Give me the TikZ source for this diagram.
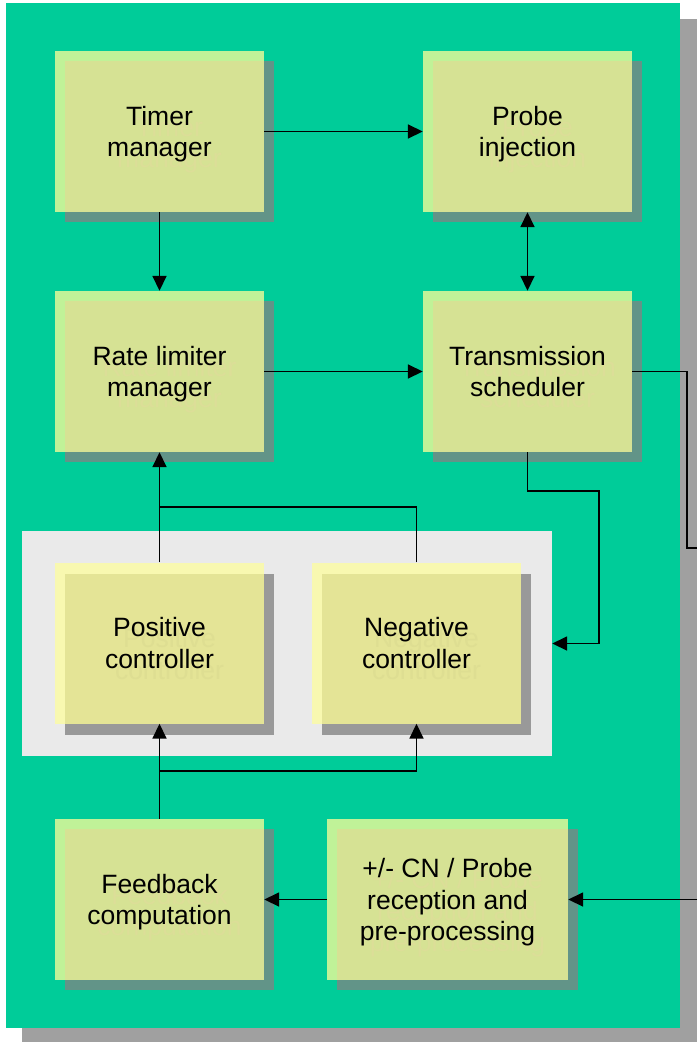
\documentclass[tikz,border=0pt]{standalone}
\usepackage{fontspec}
\setmainfont{Liberation Sans}
\usetikzlibrary{arrows.meta,shadows}
\definecolor{bggreen}{HTML}{00CC99}
\definecolor{outergray}{HTML}{A0A0A0}
\definecolor{panelgray}{HTML}{EAEAEA}
\definecolor{lgreen}{HTML}{C0F298}
\definecolor{khakiG}{HTML}{D6E294}
\definecolor{ghostG}{HTML}{DCDE98}
\definecolor{shadowG}{HTML}{629488}
\definecolor{lyellow}{HTML}{F8F8B0}
\definecolor{khakiY}{HTML}{E4E496}
\definecolor{ghostY}{HTML}{DEDE92}
\definecolor{shadowY}{HTML}{999999}
\newcommand\boxfont{\fontsize{26.5}{31.5}\selectfont}
\newcommand\tp{\rule{0pt}{25pt}}
\newcommand\bt{\rule[-6pt]{0pt}{6pt}}
\tikzset{
  base/.style={rectangle, inner sep=0pt, minimum width=209pt, minimum height=161pt,
    align=center, font=\boxfont, text=black},
  gbox/.style={base, fill=lgreen,
    drop shadow={shadow xshift=10pt, shadow yshift=-10pt, fill=shadowG, opacity=1},
    path picture={
      \fill[khakiG] ([shift={(10pt,-10pt)}]path picture bounding box.north west)
        rectangle (path picture bounding box.south east);
      \node[font=\boxfont, align=center, text=ghostG, inner sep=0pt]
        at ([shift={(10pt,-11pt)}]path picture bounding box.center) {\tp #1\bt};}},
  ybox/.style={base, fill=lyellow,
    drop shadow={shadow xshift=10pt, shadow yshift=-11pt, fill=shadowY, opacity=1},
    path picture={
      \fill[khakiY] ([shift={(10pt,-11pt)}]path picture bounding box.north west)
        rectangle (path picture bounding box.south east);
      \node[font=\boxfont, align=center, text=ghostY, inner sep=0pt]
        at ([shift={(10pt,-11pt)}]path picture bounding box.center) {\tp #1\bt};}},
  conn/.style={line width=1.7pt, draw=black},
  arr/.style={conn, -{Triangle[length=15pt,width=14pt]}},
  darr/.style={conn, {Triangle[length=15pt,width=14pt]}-{Triangle[length=15pt,width=14pt]}},
}
\begin{document}
\begin{tikzpicture}[x=1pt,y=-1pt]
\useasboundingbox (0,0) rectangle (697,1042);
\fill[outergray] (22,19) rectangle (697,1042);
\fill[bggreen] (6,3) rectangle (680,1028);
\node[rectangle, fill=panelgray, inner sep=0pt, minimum width=530pt, minimum height=225pt] (panel) at (287,643.5) {};

\node[gbox={Timer\\manager}] (timer) at (159.5,131.5) {\tp Timer\\manager\bt};
\node[gbox={Probe\\injection}] (probe) at (527.5,131.5) {\tp Probe\\injection\bt};
\node[gbox={Rate limiter\\manager}] (rate) at (159.5,371.5) {\tp Rate limiter\\manager\bt};
\node[gbox={Transmission\\scheduler}] (trans) at (527.5,371.5) {\tp Transmission\\scheduler\bt};
\node[ybox={Positive\\controller}] (pos) at (159.5,643) {\tp Positive\\controller\bt};
\node[ybox={Negative\\controller}] (neg) at (416.5,643) {\tp Negative\\controller\bt};
\node[gbox={Feedback\\computation}] (feed) at (159.5,899.5) {\tp Feedback\\computation\bt};
\node[gbox={+/- CN / Probe\\reception and\\pre-processing}, minimum width=241pt] (cn) at (447.5,899.5) {\tp +/- CN / Probe\\reception and\\pre-processing\bt};

\coordinate (j1) at (599,491);
\coordinate (j2) at (159.5,507);
\coordinate (j3) at (159.5,771);
\coordinate (k1) at (687,548);
\coordinate (outA) at (697,548);
\coordinate (inB) at (697,899.5);

\draw[arr] (timer) -- (probe);
\draw[arr] (timer) -- (rate);
\draw[darr] (probe) -- (trans);
\draw[arr] (rate) -- (trans);
\draw[arr] (trans.south) |- (j1) |- (panel.east);
\draw[conn] (trans.east) -| (k1) -- (outA);
\draw[arr] (pos) -- (rate);
\draw[conn] (neg.north) |- (j2);
\draw[arr] (feed) -- (pos);
\draw[arr] (j3) -| (neg.south);
\draw[arr] (cn) -- (feed);
\draw[arr] (inB) -- (cn.east);
\end{tikzpicture}
\end{document}
